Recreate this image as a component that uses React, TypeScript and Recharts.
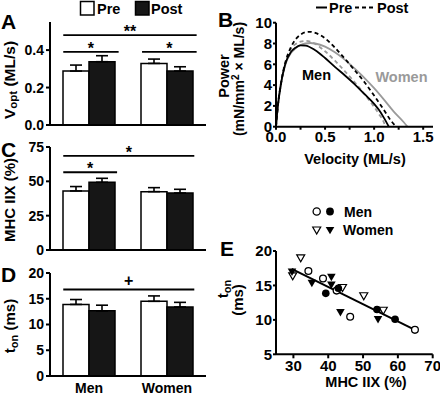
import React from 'react';
import {
  BarChart, Bar, XAxis, YAxis, ErrorBar, ReferenceLine,
  LineChart, Line, ComposedChart, Scatter,
} from 'recharts';

const FONT = '"Liberation Sans", Arial, Helvetica, sans-serif';

// ---------- Panels A, C, D (bar charts) ----------
const groups = ['Men', 'Women'];
const groupPos = [0.5, 1.5];

const voptPre = [0.288, 0.329];
const voptPreErr = [0.032, 0.023];
const voptPost = [0.338, 0.288];
const voptPostErr = [0.032, 0.023];
const voptTicks = [0, 0.2, 0.4];
const voptSig = [
  { x1: 0.17, x2: 1.88, y: 0.48, label: '**' },
  { x1: 0.17, x2: 0.88, y: 0.391, label: '*' },
  { x1: 1.18, x2: 1.88, y: 0.391, label: '*' },
];

const mhcPre = [43.0, 42.5];
const mhcPreErr = [3.2, 2.9];
const mhcPost = [49.3, 41.5];
const mhcPostErr = [2.9, 2.7];
const mhcTicks = [0, 25, 50, 75];
const mhcSig = [
  { x1: 0.17, x2: 1.85, y: 68.5, label: '*' },
  { x1: 0.17, x2: 0.86, y: 56.6, label: '*' },
];

const tonPre = [13.9, 14.5];
const tonPreErr = [0.95, 1.05];
const tonPost = [12.65, 13.4];
const tonPostErr = [1.1, 0.9];
const tonTicks = [0, 5, 10, 15, 20];
const tonSig = [{ x1: 0.17, x2: 1.85, y: 16.8, label: '+' }];

// ---------- Panel B (power-velocity curves) ----------
const menPreV = [0, 0.02, 0.05, 0.1, 0.15, 0.2, 0.25, 0.3, 0.4, 0.5, 0.6, 0.7, 0.8, 0.9, 1.0, 1.05, 1.1, 1.15];
const menPreP = [0, 2.1, 4.1, 6.2, 7.15, 7.6, 7.82, 7.8, 7.35, 6.6, 5.75, 4.95, 4.1, 3.15, 2.2, 1.6, 0.85, 0];
const menPostV = [0, 0.02, 0.05, 0.1, 0.15, 0.2, 0.25, 0.3, 0.35, 0.4, 0.5, 0.6, 0.7, 0.8, 0.9, 1.0, 1.1, 1.17, 1.225];
const menPostP = [0, 2.1, 4.1, 6.3, 7.6, 8.4, 8.85, 9.08, 9.12, 9.02, 8.5, 7.6, 6.55, 5.45, 4.3, 3.0, 1.6, 0.6, 0];
const womenPreV = [0, 0.02, 0.05, 0.1, 0.15, 0.2, 0.25, 0.3, 0.35, 0.4, 0.5, 0.6, 0.7, 0.8, 0.9, 1.0, 1.1, 1.2, 1.3, 1.34];
const womenPreP = [0, 2.0, 4.0, 6.1, 7.05, 7.55, 7.85, 8.0, 8.05, 8.0, 7.7, 7.15, 6.45, 5.6, 4.7, 3.7, 2.6, 1.45, 0.45, 0];
const womenPostV = [0, 0.02, 0.05, 0.1, 0.15, 0.2, 0.25, 0.3, 0.35, 0.4, 0.5, 0.6, 0.7, 0.8, 0.9, 1.0, 1.05, 1.1, 1.115];
const womenPostP = [0, 2.1, 4.2, 6.4, 7.45, 7.95, 8.18, 8.25, 8.18, 7.95, 7.25, 6.35, 5.35, 4.3, 3.15, 1.9, 1.2, 0.4, 0];
const velocityTicks = [0, 0.25, 0.5, 0.75, 1, 1.25, 1.5];
const powerTicks = [0, 2, 4, 6, 8, 10];

// ---------- Panel E (scatter) ----------
const menPreMhc = [34.3, 38.5, 42.4, 46.3, 64.9];
const menPreTon = [17.1, 16.0, 14.25, 10.45, 8.55];
const menPostMhc = [39.3, 42.9, 54.0, 59.2];
const menPostTon = [13.85, 14.6, 11.5, 10.1];
const womenPreMhc = [32.1, 29.8, 44.1, 50.2, 55.8];
const womenPreTon = [19.0, 16.4, 14.7, 13.5, 11.4];
const womenPostMhc = [29.6, 35.3, 40.9, 40.9, 43.5, 54.3];
const womenPostTon = [17.0, 15.35, 16.25, 15.1, 11.1, 10.1];
const fitMhc = [29.5, 64.9];
const fitTon = [17.4, 8.55];
const mhcXTicks = [30, 40, 50, 60, 70];
const tonYTicks = [5, 10, 15, 20];

// ---------- helpers ----------
const axisStyle = { stroke: '#000', strokeWidth: 2 };
const tickText = (size: number) => ({ fill: '#000', fontSize: size, fontWeight: 'bold', fontFamily: FONT });

const pairs = (xs: number[], ys: number[], kx: string, ky: string) =>
  xs.map((x, i) => ({ [kx]: x, [ky]: ys[i] }));

type Sig = { x1: number; x2: number; y: number; label: string };

function BarPanel(props: {
  height: number; marginTop: number; xAxisHeight: number; domain: [number, number];
  ticks: number[]; fmt: (v: number) => string; pre: number[]; preErr: number[];
  post: number[]; postErr: number[]; sig: Sig[]; showCats: boolean;
}) {
  const rows = groups.map((g, i) => ({
    pos: groupPos[i],
    pre: props.pre[i],
    post: props.post[i],
    preErr: [0, props.preErr[i]],
    postErr: [0, props.postErr[i]],
  }));
  return (
    <BarChart width={215} height={props.height} data={rows}
      margin={{ top: props.marginTop, right: 9, left: 0, bottom: 0 }}
      barGap={0} barSize={26}>
      <XAxis dataKey="pos" type="number" domain={[0, 2]} ticks={groupPos} interval={0}
        tickFormatter={(v: number) => groups[Math.floor(v)]}
        axisLine={axisStyle} tickLine={false}
        tick={props.showCats ? tickText(14) : false} height={props.xAxisHeight}
        tickSize={2} tickMargin={5} allowDataOverflow />
      <YAxis width={50} domain={props.domain} ticks={props.ticks} tickFormatter={props.fmt}
        axisLine={axisStyle} tickLine={axisStyle} tickSize={4} tickMargin={2}
        tick={tickText(14)} allowDataOverflow interval={0} />
      <Bar dataKey="pre" fill="#ffffff" stroke="#000" strokeWidth={1.5} isAnimationActive={false}>
        <ErrorBar dataKey="preErr" width={6} stroke="#000" strokeWidth={1.6} direction="y" />
      </Bar>
      <Bar dataKey="post" fill="#161616" stroke="#000" strokeWidth={1.5} isAnimationActive={false}>
        <ErrorBar dataKey="postErr" width={6} stroke="#000" strokeWidth={1.6} direction="y" />
      </Bar>
      {props.sig.map((s, i) => (
        <ReferenceLine key={'sig' + i} ifOverflow="visible"
          segment={[{ x: s.x1, y: s.y }, { x: s.x2, y: s.y }]}
          stroke="#000" strokeWidth={1.8}
          label={{ value: s.label, position: 'top', offset: s.label === '+' ? 3 : -2, fill: '#000', fontSize: 16, fontWeight: 'bold', fontFamily: FONT }} />
      ))}
    </BarChart>
  );
}

const OpenCircle = (p: any) => <circle cx={p.cx} cy={p.cy} r={3.4} fill="#fff" stroke="#000" strokeWidth={1.3} />;
const FilledCircle = (p: any) => <circle cx={p.cx} cy={p.cy} r={3.8} fill="#000" />;
const OpenTri = (p: any) => (
  <polygon points={`${p.cx - 4},${p.cy - 3} ${p.cx + 4},${p.cy - 3} ${p.cx},${p.cy + 4}`}
    fill="#fff" stroke="#000" strokeWidth={1.2} />
);
const FilledTri = (p: any) => (
  <polygon points={`${p.cx - 4.3},${p.cy - 3.2} ${p.cx + 4.3},${p.cy - 3.2} ${p.cx},${p.cy + 4.3}`} fill="#000" />
);

function PanelB() {
  const gray = '#9a9a9a';
  return (
    <LineChart width={220} height={170} margin={{ top: 22.7, right: 7, left: 0, bottom: 0 }}>
      <XAxis type="number" dataKey="v" domain={[0, 1.6]} ticks={velocityTicks} interval={0}
        tickFormatter={(v: number) => (Math.abs(v % 0.5) < 1e-9 ? v.toFixed(1) : '')}
        height={43.3} axisLine={axisStyle} tickLine={axisStyle} tickSize={3} tickMargin={2}
        tick={tickText(15)} allowDataOverflow />
      <YAxis type="number" domain={[0, 10]} ticks={powerTicks} interval={0} width={56}
        axisLine={axisStyle} tickLine={axisStyle} tickSize={3} tickMargin={1}
        tick={tickText(15)} allowDataOverflow />
      <Line data={pairs(womenPreV, womenPreP, 'v', 'p')} dataKey="p" stroke={gray} strokeWidth={1.8} dot={false} type="monotone" isAnimationActive={false} />
      <Line data={pairs(womenPostV, womenPostP, 'v', 'p')} dataKey="p" stroke={gray} strokeWidth={1.8} strokeDasharray="4 3" dot={false} type="monotone" isAnimationActive={false} />
      <Line data={pairs(menPreV, menPreP, 'v', 'p')} dataKey="p" stroke="#000" strokeWidth={1.8} dot={false} type="monotone" isAnimationActive={false} />
      <Line data={pairs(menPostV, menPostP, 'v', 'p')} dataKey="p" stroke="#000" strokeWidth={1.8} strokeDasharray="4 3" dot={false} type="monotone" isAnimationActive={false} />
    </LineChart>
  );
}

function PanelE() {
  return (
    <ComposedChart width={220} height={160} margin={{ top: 11, right: 7.3, left: 0, bottom: 0 }}>
      <XAxis type="number" dataKey="x" domain={[25, 70]} ticks={mhcXTicks} interval={0}
        height={45.7} axisLine={axisStyle} tickLine={axisStyle} tickSize={4} tickMargin={2}
        tick={tickText(15)} allowDataOverflow />
      <YAxis type="number" dataKey="y" domain={[5, 20]} ticks={tonYTicks} interval={0} width={56}
        axisLine={axisStyle} tickLine={axisStyle} tickSize={3} tickMargin={1}
        tick={tickText(15)} allowDataOverflow />
      <Scatter data={pairs(menPreMhc, menPreTon, 'x', 'y')} shape={OpenCircle} isAnimationActive={false} />
      <Scatter data={pairs(womenPreMhc, womenPreTon, 'x', 'y')} shape={OpenTri} isAnimationActive={false} />
      <Scatter data={pairs(menPostMhc, menPostTon, 'x', 'y')} shape={FilledCircle} isAnimationActive={false} />
      <Scatter data={pairs(womenPostMhc, womenPostTon, 'x', 'y')} shape={FilledTri} isAnimationActive={false} />
      <Line data={pairs(fitMhc, fitTon, 'x', 'y')} dataKey="y" stroke="#000" strokeWidth={2} dot={false} type="linear" isAnimationActive={false} />
    </ComposedChart>
  );
}

function Overlay() {
  const t = { fontFamily: FONT, fontWeight: 'bold' as const, fill: '#000' };
  return (
    <svg width={440} height={400} style={{ position: 'absolute', left: 0, top: 0, pointerEvents: 'none' }}>
      {/* panel letters */}
      <text x={1} y={28.5} fontSize={21} {...t}>A</text>
      <text x={218} y={27} fontSize={21} {...t}>B</text>
      <text x={1} y={157} fontSize={21} {...t}>C</text>
      <text x={1} y={282} fontSize={21} {...t}>D</text>
      <text x={220} y={255.5} fontSize={21} {...t}>E</text>

      {/* A legend */}
      <rect x={80.5} y={1.5} width={13.5} height={13.5} fill="#fff" stroke="#000" strokeWidth={1.5} />
      <text x={97} y={13.5} fontSize={14.5} {...t}>Pre</text>
      <rect x={135.5} y={1.5} width={13.5} height={13.5} fill="#161616" stroke="#000" strokeWidth={1.5} />
      <text x={151} y={13.5} fontSize={14.5} {...t}>Post</text>

      {/* B legend */}
      <line x1={316} y1={7.5} x2={327} y2={7.5} stroke="#000" strokeWidth={2} />
      <text x={329} y={13} fontSize={14.5} {...t}>Pre</text>
      <line x1={355} y1={7.5} x2={375} y2={7.5} stroke="#000" strokeWidth={2} strokeDasharray="4 3" />
      <text x={377} y={13} fontSize={14.5} {...t}>Post</text>

      {/* B annotations */}
      <text x={316.5} y={80} fontSize={14.5} textAnchor="middle" {...t}>Men</text>
      <text x={401.5} y={81.5} fontSize={14.5} textAnchor="middle" {...t} fill="#9a9a9a">Women</text>

      {/* E legend */}
      <circle cx={316.7} cy={211.5} r={3.6} fill="#fff" stroke="#000" strokeWidth={1.3} />
      <circle cx={330} cy={211.5} r={3.9} fill="#000" />
      <text x={344} y={217} fontSize={14} {...t}>Men</text>
      <polygon points="312.7,227 320.7,227 316.7,234" fill="#fff" stroke="#000" strokeWidth={1.2} />
      <polygon points="325.7,227 334.3,227 330,234.3" fill="#000" />
      <text x={343} y={235} fontSize={14} {...t}>Women</text>

      {/* Y titles */}
      <text transform="translate(14.5,80) rotate(-90)" textAnchor="middle" fontSize={15.5} {...t}>
        V<tspan fontSize={11.5} dy={2.5}>opt</tspan><tspan dy={-2.5}> (ML/s)</tspan>
      </text>
      <text transform="translate(15,200) rotate(-90)" textAnchor="middle" fontSize={15} {...t}>MHC IIX (%)</text>
      <text transform="translate(15,326) rotate(-90)" textAnchor="middle" fontSize={15} {...t}>
        t<tspan fontSize={11} dy={2.5}>on</tspan><tspan dy={-2.5}> (ms)</tspan>
      </text>
      <text transform="translate(229,76) rotate(-90)" textAnchor="middle" fontSize={14.5} {...t}>Power</text>
      <text transform="translate(244,79) rotate(-90)" textAnchor="middle" fontSize={14} {...t}>
        (mN/mm<tspan fontSize={10} dy={-5}>2</tspan><tspan dy={5}> × ML/s)</tspan>
      </text>
      <text transform="translate(228,289) rotate(-90)" textAnchor="middle" fontSize={15} {...t}>
        t<tspan fontSize={11} dy={2.5}>on</tspan>
      </text>
      <text transform="translate(243,300) rotate(-90)" textAnchor="middle" fontSize={15} {...t}>(ms)</text>

      {/* X titles */}
      <text x={355} y={163.5} fontSize={14.5} textAnchor="middle" {...t}>Velocity (ML/s)</text>
      <text x={366} y={386.5} fontSize={14.5} textAnchor="middle" {...t}>MHC IIX (%)</text>
    </svg>
  );
}

export default function App() {
  return (
    <div style={{ position: 'absolute', left: 0, top: 0, width: 440, height: 400, background: '#fff', overflow: 'hidden' }}>
      <div style={{ position: 'absolute', left: 0, top: 0 }}>
        <BarPanel height={135} marginTop={22} xAxisHeight={10} domain={[0, 0.55]} ticks={voptTicks}
          fmt={(v) => v.toFixed(1)} pre={voptPre} preErr={voptPreErr} post={voptPost} postErr={voptPostErr}
          sig={voptSig} showCats={false} />
      </div>
      <div style={{ position: 'absolute', left: 0, top: 130 }}>
        <BarPanel height={130} marginTop={17} xAxisHeight={10} domain={[0, 75]} ticks={mhcTicks}
          fmt={(v) => String(v)} pre={mhcPre} preErr={mhcPreErr} post={mhcPost} postErr={mhcPostErr}
          sig={mhcSig} showCats={false} />
      </div>
      <div style={{ position: 'absolute', left: 0, top: 255 }}>
        <BarPanel height={145} marginTop={18} xAxisHeight={24} domain={[0, 20]} ticks={tonTicks}
          fmt={(v) => String(v)} pre={tonPre} preErr={tonPreErr} post={tonPost} postErr={tonPostErr}
          sig={tonSig} showCats={true} />
      </div>
      <div style={{ position: 'absolute', left: 220, top: 0 }}>
        <PanelB />
      </div>
      <div style={{ position: 'absolute', left: 220, top: 240 }}>
        <PanelE />
      </div>
      <Overlay />
    </div>
  );
}
